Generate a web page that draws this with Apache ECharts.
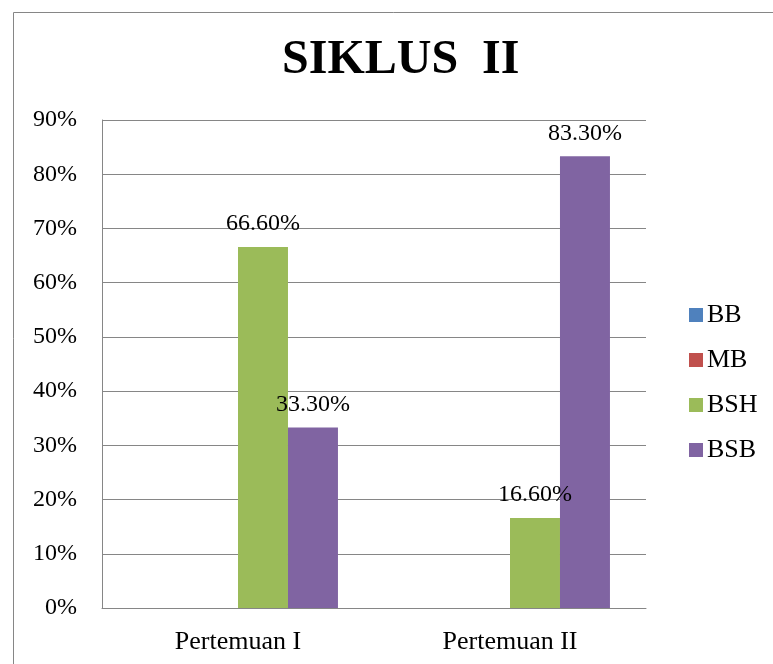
<!DOCTYPE html>
<html>
<head>
<meta charset="utf-8">
<script src="https://cdn.jsdelivr.net/npm/echarts@6/dist/echarts.min.js"></script>
<style>
  html, body { margin: 0; padding: 0; background: #fff; }
  #chart { width: 773px; height: 664px; }
</style>
</head>
<body>
<div id="chart"></div>
<script>
const categories = ['Pertemuan I', 'Pertemuan II'];
const seriesNames = ['BB', 'MB', 'BSH', 'BSB'];
const bbValues = [0, 0];
const mbValues = [0, 0];
const bshValues = [66.6, 16.6];
const bsbValues = [33.3, 83.3];
const colors = ['#4F81BD', '#C0504D', '#9BBB59', '#8064A2'];

const font = "'Liberation Serif', 'Times New Roman', serif";
const gridColor = '#868686';

const makeSeries = (name, data, color, showLabel) => ({
  name,
  type: 'bar',
  data,
  barGap: 0,
  barCategoryGap: '26.5%',
  itemStyle: { color },
  label: {
    show: showLabel,
    position: 'top',
    distance: 11,
    fontFamily: font,
    fontSize: 24,
    color: '#000',
    formatter: p => p.value.toFixed(2) + '%'
  }
});

const chart = echarts.init(document.getElementById('chart'));
chart.setOption({
  animation: false,
  title: {
    text: 'SIKLUS  II',
    left: 277,
    top: 32,
    textStyle: { fontFamily: font, fontSize: 48, fontWeight: 'bold', color: '#000' }
  },
  graphic: [{
    type: 'rect',
    shape: { x: 13.5, y: 12.5, width: 900, height: 800 },
    style: { fill: 'none', stroke: gridColor, lineWidth: 1 },
    silent: true
  }],
  legend: {
    orient: 'vertical',
    left: 684,
    top: 297,
    itemWidth: 14,
    itemHeight: 14,
    itemGap: 19,
    icon: 'rect',
    textStyle: { fontFamily: font, fontSize: 26, color: '#000', padding: [0, 0, 0, -1] },
    data: seriesNames
  },
  grid: { left: 102, right: 127, top: 120, bottom: 56 },
  xAxis: {
    type: 'category',
    data: categories,
    axisLine: { lineStyle: { color: gridColor, width: 1 } },
    axisTick: { show: false },
    axisLabel: { fontFamily: font, fontSize: 26, color: '#000', margin: 21 }
  },
  yAxis: {
    type: 'value',
    min: 0,
    max: 90,
    interval: 10,
    axisLine: { show: true, lineStyle: { color: gridColor, width: 1 } },
    axisTick: { show: false },
    splitLine: { lineStyle: { color: gridColor, width: 1 } },
    axisLabel: {
      fontFamily: font, fontSize: 24, color: '#000', margin: 25,
      padding: [7, 0, 0, 0], formatter: '{value}%'
    }
  },
  series: [
    makeSeries(seriesNames[0], bbValues, colors[0], false),
    makeSeries(seriesNames[1], mbValues, colors[1], false),
    makeSeries(seriesNames[2], bshValues, colors[2], true),
    makeSeries(seriesNames[3], bsbValues, colors[3], true)
  ]
});
</script>
</body>
</html>
